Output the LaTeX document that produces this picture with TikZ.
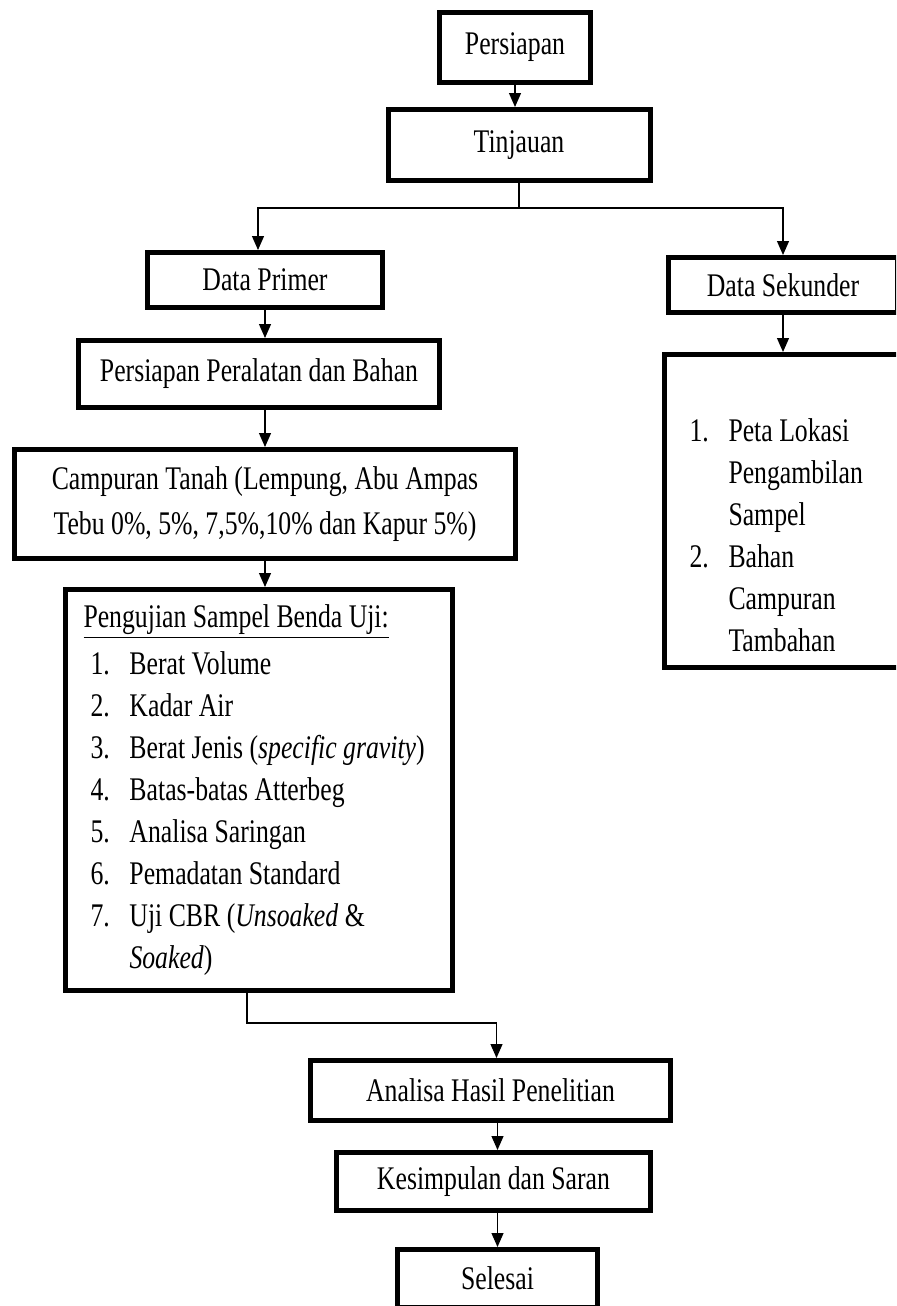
\documentclass[tikz,border=0pt]{standalone}
\usepackage{fontspec}
\setmainfont{Liberation Serif}[FakeStretch=0.78]
\usepackage{tikz}
\usetikzlibrary{arrows.meta,positioning}
\tikzstyle{kotak}=[rectangle, draw=black, line width=2.5pt, align=center, inner sep=0pt, font=\fontsize{16.5}{21}\selectfont]
\tikzstyle{panah}=[->, line width=0.6pt]
\newcommand{\butir}[2]{\hspace*{3.5pt}\makebox[19.5pt][l]{#1.}#2}

\begin{document}
\begin{tikzpicture}[>={Triangle[length=7pt,width=6pt]}]
	\useasboundingbox (0,0) rectangle (448pt,-653pt);
	\clip (0,0) rectangle (448pt,-653pt);

	\node[kotak, minimum width=75.5pt, minimum height=35pt]	(persiapan)	at (257.5pt,-23.75pt)	{Persiapan};
	\node[kotak, minimum width=131pt, minimum height=35.5pt]	(tinjauan)	[below=11pt of persiapan, xshift=2pt]	{Tinjauan};
	\node[kotak, minimum width=117.5pt, minimum height=27.5pt]	(primer)	[below=33.5pt of tinjauan, xshift=-127pt]	{Data Primer};
	\node[kotak, minimum width=114.5pt, minimum height=27.5pt]	(sekunder)	[below=36pt of tinjauan, xshift=132pt]	{Data Sekunder};
	\node[kotak, minimum width=180.5pt, minimum height=33.5pt]	(peralatan)	[below=14pt of primer, xshift=-3pt]	{Persiapan Peralatan dan Bahan};
	\node[kotak, minimum width=250.5pt, minimum height=54.5pt]	(campuran)	[below=18.5pt of peralatan, xshift=3pt]	{Campuran Tanah (Lempung, Abu Ampas\\[1.5pt] Tebu 0\%, 5\%, 7,5\%,10\% dan Kapur 5\%)};
	\node[kotak, minimum width=193.5pt, minimum height=200.5pt]	(pengujian)	[below=13pt of campuran, xshift=-3pt]	{\parbox{175.5pt}{%
		\underline{Pengujian Sampel Benda Uji:}\\[2.5pt]
		\butir{1}{Berat Volume}\\
		\butir{2}{Kadar Air}\\
		\butir{3}{Berat Jenis (\textit{specific gravity})}\\
		\butir{4}{Batas-batas Atterbeg}\\
		\butir{5}{Analisa Saringan}\\
		\butir{6}{Pemadatan Standard}\\
		\butir{7}{Uji CBR (\textit{Unsoaked} \&}\\
		\hspace*{23pt}\textit{Soaked})}};
	\node[kotak, minimum width=118.5pt, minimum height=156.5pt]	(rincian)	[below=18.5pt of sekunder]	{\parbox{100.5pt}{%
		\vspace{24pt}
		\butir{1}{Peta Lokasi}\\
		\hspace*{23pt}Pengambilan\\
		\hspace*{23pt}Sampel\\
		\butir{2}{Bahan}\\
		\hspace*{23pt}Campuran\\
		\hspace*{23pt}Tambahan}};
	\node[kotak, minimum width=180pt, minimum height=30pt]	(analisa)	[below=32.5pt of pengujian, xshift=115.75pt]	{Analisa Hasil Penelitian};
	\node[kotak, minimum width=157pt, minimum height=29pt]	(kesimpulan)	[below=13.5pt of analisa, xshift=1.5pt]	{Kesimpulan dan Saran};
	\node[kotak, minimum width=100pt, minimum height=29pt]	(selesai)	[below=17pt of kesimpulan, xshift=2pt]	{Selesai};

	\coordinate[below=12.5pt of tinjauan] (cabang);

	\draw[panah] (persiapan) -- (persiapan |- tinjauan.north);
	\draw[line width=0.6pt] (tinjauan) -- (cabang);
	\draw[panah] (cabang) -| ([xshift=-3.5pt]primer.north);
	\draw[panah] (cabang) -| (sekunder);
	\draw[panah] (primer) -- (primer |- peralatan.north);
	\draw[panah] (peralatan.south -| campuran) -- (campuran.north);
	\draw[panah] (campuran) -- (campuran |- pengujian.north);
	\draw[panah] (sekunder) -- (rincian);
	\draw[panah] ([xshift=-6pt]pengujian.south) -- ++(0,-15pt) -| ([xshift=3pt]analisa.north);
	\draw[panah] (selesai |- analisa.south) -- (selesai |- kesimpulan.north);
	\draw[panah] (kesimpulan.south -| selesai) -- (selesai);
\end{tikzpicture}
\end{document}
